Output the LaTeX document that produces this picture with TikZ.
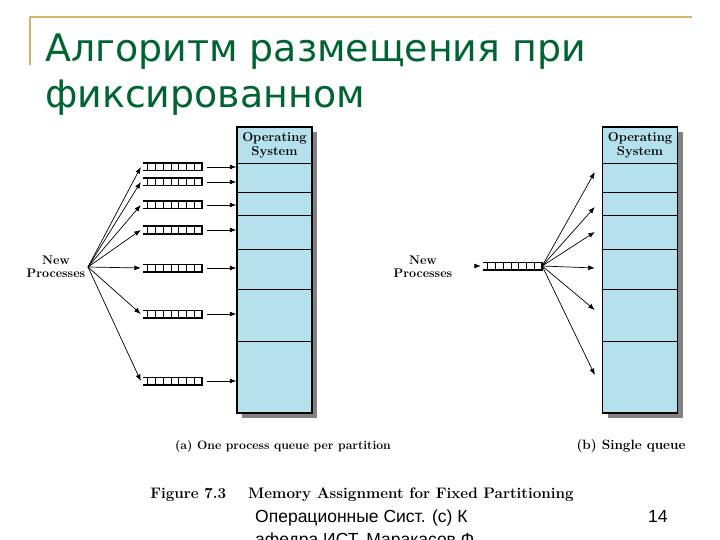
\documentclass[tikz,border=0pt]{standalone}
\usepackage{fontspec}
\usetikzlibrary{arrows.meta,shadows,calc}
\newfontfamily\titlefont{DejaVu Sans}
\newfontfamily\footfont{Liberation Sans}
\definecolor{titlegreen}{RGB}{0,100,50}
\definecolor{goldline}{RGB}{204,182,110}
\definecolor{membg}{RGB}{180,225,236}
\definecolor{shadowgray}{RGB}{130,130,130}
\tikzset{
  arr/.style={-{Latex[length=6.5pt,width=5pt]}, line width=0.7pt},
  membox/.style={draw, line width=1.4pt, fill=membg, minimum width=75pt, minimum height=286pt, inner sep=0pt,
     drop shadow={shadow xshift=5pt, shadow yshift=-5pt, fill=shadowgray, opacity=1}},
  divline/.style={line width=0.8pt},
  qbox/.style={minimum width=59pt, minimum height=7pt, inner sep=0pt},
  qedge/.style={line width=1.6pt},
  qcell/.style={line width=0.7pt},
  figtext/.style={font=\bfseries\fontsize{12.5}{13}\selectfont, align=center, inner sep=0pt},
  ostext/.style={font=\bfseries\fontsize{13}{13.5}\selectfont, align=center, inner sep=0pt},
}
\newcommand{\myqueue}[3]{%
  \node[qbox] (#1) at (#2+29.5,#3) {};
  \draw[qedge] (#1.north west) -- (#1.north east) -- (#1.south east) -- (#1.south west);
  \foreach \k in {0,...,6} \draw[qcell] ([xshift={5+\k*7.7}]#1.north west) -- ([xshift={5+\k*7.7}]#1.south west);
}
\begin{document}
\begin{tikzpicture}[x=1pt,y=-1pt]
\useasboundingbox (0,0) rectangle (720,540);
% header
\draw[goldline, line width=1.5pt] (30,65) -- (30,17) -- (692,17);
\node[anchor=base west, inner sep=0pt, text=titlegreen, font=\titlefont\fontsize{37.9}{40}\selectfont] (t1) at (45,62) {Алгоритм размещения при};
\node[anchor=base west, inner sep=0pt, text=titlegreen, font=\titlefont\fontsize{37.9}{40}\selectfont] (t2) at (45,108) {фиксированном};

% ---- left diagram ----
\node[membox] (memL) at (274.5,270) {};
\foreach \yy in {163,192,215,249,289,341} \draw[divline] (memL.west |- 0,\yy) -- (memL.east |- 0,\yy);
\node[ostext] (osL) at (274.5,145.5) {Operating\\System};
\node[figtext] (npL) at (56,267) {New\\Processes};
\coordinate (fanL) at (88,267);
\foreach \i/\yy in {1/167,2/182,3/205,4/230,5/268,6/314,7/381} {
  \myqueue{qL\i}{143}{\yy}
  \draw[arr] (fanL) -- ([xshift=-2pt]qL\i.west);
  \draw[arr] ([xshift=5pt]qL\i.east) -- (memL.west |- qL\i.east);
}
\node[anchor=base, inner sep=0pt, font=\bfseries\fontsize{12.2}{13}\selectfont] (capA) at (283,449) {(a) One process queue per partition};

% ---- right diagram ----
\node[membox] (memR) at (640,270) {};
\foreach \yy in {163,192,215,249,289,341} \draw[divline] (memR.west |- 0,\yy) -- (memR.east |- 0,\yy);
\node[ostext] (osR) at (640,145.5) {Operating\\System};
\node[figtext] (npR) at (423,267) {New\\Processes};
\myqueue{qR}{483}{266}
\draw[arr] ([xshift=-8pt]qR.west) -- ([xshift=-2pt]qR.west);
\foreach \yy in {172,207,232,268,310,375} {
  \draw[arr] (qR.east) -- ([xshift=-7pt]memR.west |- 0,\yy);
}
\node[anchor=base, inner sep=0pt, font=\bfseries\fontsize{13.5}{14}\selectfont] (capB) at (631,449) {(b) Single queue};

\node[anchor=base, inner sep=0pt, font=\bfseries\fontsize{15.2}{16}\selectfont] (fig) at (362,498) {Figure 7.3\hspace{22pt}Memory Assignment for Fixed Partitioning};

% footer
\node[anchor=base west, inner sep=0pt, font=\footfont\fontsize{17.5}{20}\selectfont] (f1) at (255,522) {Операционные Сист. (c) К};
\node[anchor=base west, inner sep=0pt, font=\footfont\fontsize{17.5}{20}\selectfont] (f2) at (255,545) {афедра ИСТ, Маракасов Ф};
\node[anchor=base west, inner sep=0pt, font=\footfont\fontsize{17.5}{20}\selectfont] (pg) at (648,522) {14};
\end{tikzpicture}
\end{document}
